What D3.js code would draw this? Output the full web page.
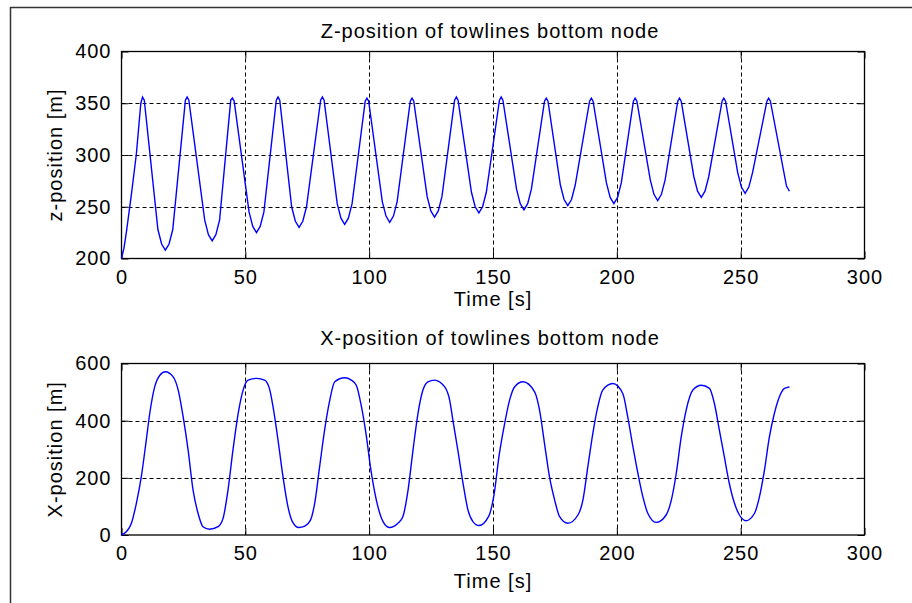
<!DOCTYPE html>
<html><head><meta charset="utf-8">
<script src="https://cdn.jsdelivr.net/npm/d3@7"></script>
<style>
html,body{margin:0;padding:0;background:#fff;}
svg text{font-family:"Liberation Sans",Arial,sans-serif;fill:#000;letter-spacing:1px;}
</style></head>
<body><svg id="c" width="912" height="603"></svg>
<script>
// ---- data ----
const topTitle = "Z-position of towlines bottom node";
const botTitle = "X-position of towlines bottom node";
const xLabel = "Time [s]";
const topYLabel = "z-position [m]";
const botYLabel = "X-position [m]";
const xTicks = [0, 50, 100, 150, 200, 250, 300];
const topYTicks = [200, 250, 300, 350, 400];
const botYTicks = [0, 200, 400, 600];

const topTime = [0,1,2,4,6,7.8,8.5,9.2,14.7,16.2,17.7,19.2,20.7,25.8,26.5,27.2,33.6,35.1,36.6,38.1,39.6,44.1,44.8,45.5,51.5,53,54.5,56,57.5,62.5,63.2,63.9,68.7,70.2,71.7,73.2,74.7,80.4,81.1,81.8,87.1,88.6,90.1,91.6,93.1,98.4,99.1,99.8,105.3,106.8,108.3,109.8,111.3,116.6,117.3,118,123.4,124.9,126.4,127.9,129.4,134.5,135.2,135.9,141.3,142.8,144.3,145.8,147.3,152.6,153.3,154,159.5,161,162.5,164,165.5,170.8,171.5,172.2,177.2,178.7,180.2,181.7,183.2,189,189.7,190.4,195.8,197.3,198.8,200.3,201.8,206.7,207.4,208.1,213.5,215,216.5,218,219.5,224.6,225.3,226,231.1,232.6,234.1,235.6,237.1,242.5,243.2,243.9,248.8,250.3,251.8,253.3,254.8,260.6,261.3,262,268.5,269.7];
const topZ = [200,210,226,262,301,350,356,353,228,214,208,214,228,353,356,353,237,223,217,223,237,353,355,352,245,231,225,231,245,353,356,353,250,236,230,236,250,353,356,353,253,239,233,239,253,352,355,352,255,241,235,241,255,352,355,352,260,246,240,246,260,353,356,353,264,250,244,250,264,353,356,353,267,253,247,253,267,352,355,352,271,257,251,257,271,352,355,352,273,259,253,259,273,352,355,352,276,262,256,262,276,352,355,352,279,265,259,265,279,352,355,352,283,269,263,269,283,352,355,352,270,265];

const botTime = [0,2,4,6,8,10,11.4,13.4,15.5,17.7,20.8,22.9,24.9,26.9,28.9,30.9,32.9,35.6,39,41,43,45,47.1,49.1,51.1,54.5,57.8,59.9,61.2,63.2,65.2,67.2,69,71.6,74,76.3,78,80,82,84.1,86.1,90.1,92.8,94.8,96.9,98.9,100.5,102.9,105.6,108.3,111.6,113.6,115.7,117.7,119.7,121.7,123.7,126.4,130.5,132.5,133.8,135.8,137.9,139.9,141.9,144.3,148.3,150.4,152.5,154.7,156.7,158.7,162.1,166.8,168.8,170.8,172.8,174.9,176.9,180.2,184.3,186.3,188.3,190.3,192.3,194.3,198.4,202.4,204.4,206.5,208.5,210.5,212.5,215.9,219.9,222,224,226,228,230.7,234.1,237.4,239.4,241.4,243.4,245.4,247.5,249.5,252.2,255.6,257.6,259.6,261.6,263.6,265.6,267.7,269.7];
const botX = [0,12,41,111,204,332,425,518,559,571,554,507,413,297,157,76,29,20,29,58,157,297,425,507,542,548,542,507,448,332,204,99,47,26,31,52,111,239,367,472,536,550,542,524,448,344,239,122,47,26,41,64,157,297,425,507,536,542,518,472,402,297,181,87,47,33,66,140,280,390,472,518,536,501,437,320,204,122,64,41,70,122,239,355,448,507,530,495,413,309,216,134,76,44,70,122,216,343,437,507,524,513,460,367,274,181,111,70,50,76,134,227,343,425,483,513,518];

// ---- drawing ----
const svg = d3.select("#c");
const FS = 20;
const FF = "Liberation Sans";

// figure frame
svg.append("path").attr("d","M10.5,603 L10.5,7.5 L912,7.5")
  .attr("fill","none").attr("stroke","#333").attr("stroke-width",1.5);

function panel(o){
  const x = d3.scaleLinear().domain([0,300]).range([121.5,864.5]);
  const y = d3.scaleLinear().domain(o.ydom).range([o.y1,o.y0]);
  const g = svg.append("g");
  // grid
  g.selectAll(".gx").data(xTicks.filter(t=>t>0&&t<300)).join("line")
    .attr("x1",d=>Math.round(x(d))+0.5).attr("x2",d=>Math.round(x(d))+0.5)
    .attr("y1",o.y0).attr("y2",o.y1)
    .attr("stroke","#000").attr("stroke-dasharray","4,3").attr("stroke-width",1);
  g.selectAll(".gy").data(o.yticks.filter(t=>t>o.ydom[0]&&t<o.ydom[1])).join("line")
    .attr("y1",d=>Math.round(y(d))+0.5).attr("y2",d=>Math.round(y(d))+0.5)
    .attr("x1",x(0)).attr("x2",x(300))
    .attr("stroke","#000").attr("stroke-dasharray","4,3").attr("stroke-width",1);
  // axes
  const styleAx = s => { s.select(".domain").remove(); s.selectAll("line").attr("stroke","#000");
    s.selectAll("text").attr("font-size",FS).attr("font-family",FF).attr("fill","#000"); };
  g.append("g").attr("transform",`translate(0,${o.y1})`)
    .call(d3.axisBottom(x).tickValues(xTicks).tickSize(-7).tickPadding(11).tickFormat(d3.format("d"))).call(styleAx);
  g.append("g").attr("transform",`translate(0,${o.y0})`)
    .call(d3.axisTop(x).tickValues(xTicks).tickSize(-7).tickFormat("")).call(styleAx);
  g.append("g").attr("transform",`translate(${x(0)},0)`)
    .call(d3.axisLeft(y).tickValues(o.yticks).tickSize(-7).tickPadding(10).tickFormat(d3.format("d"))).call(styleAx);
  g.append("g").attr("transform",`translate(${x(300)},0)`)
    .call(d3.axisRight(y).tickValues(o.yticks).tickSize(-7).tickFormat("")).call(styleAx);
  // box
  g.append("rect").attr("x",x(0)).attr("y",o.y0).attr("width",x(300)-x(0)).attr("height",o.y1-o.y0)
    .attr("fill","none").attr("stroke","#000").attr("stroke-width",1.3);
  // line
  const pts = o.t.map((t,i)=>[t,o.v[i]]);
  g.append("path").datum(pts)
    .attr("d", d3.line().x(d=>x(d[0])).y(d=>y(d[1])).curve(o.curve))
    .attr("fill","none").attr("stroke","#0000ff").attr("stroke-width",1.4);
  // texts
  g.append("text").attr("x",490).attr("y",o.titleY).attr("text-anchor","middle")
    .attr("font-size",FS).text(o.title);
  g.append("text").attr("x",(x(0)+x(300))/2).attr("y",o.xlabY).attr("text-anchor","middle")
    .attr("font-size",FS).text(xLabel);
  g.append("text").attr("transform",`translate(62,${(o.y0+o.y1)/2}) rotate(-90)`)
    .attr("text-anchor","middle").attr("font-size",FS).text(o.ylab);
}

panel({ydom:[200,400], y0:51.5, y1:258.5, yticks:topYTicks, t:topTime, v:topZ,
  curve:d3.curveLinear, title:topTitle, titleY:38, xlabY:306, ylab:topYLabel});
panel({ydom:[0,600], y0:363.5, y1:535, yticks:botYTicks, t:botTime, v:botX,
  curve:d3.curveMonotoneX, title:botTitle, titleY:345, xlabY:588, ylab:botYLabel});
</script></body></html>
